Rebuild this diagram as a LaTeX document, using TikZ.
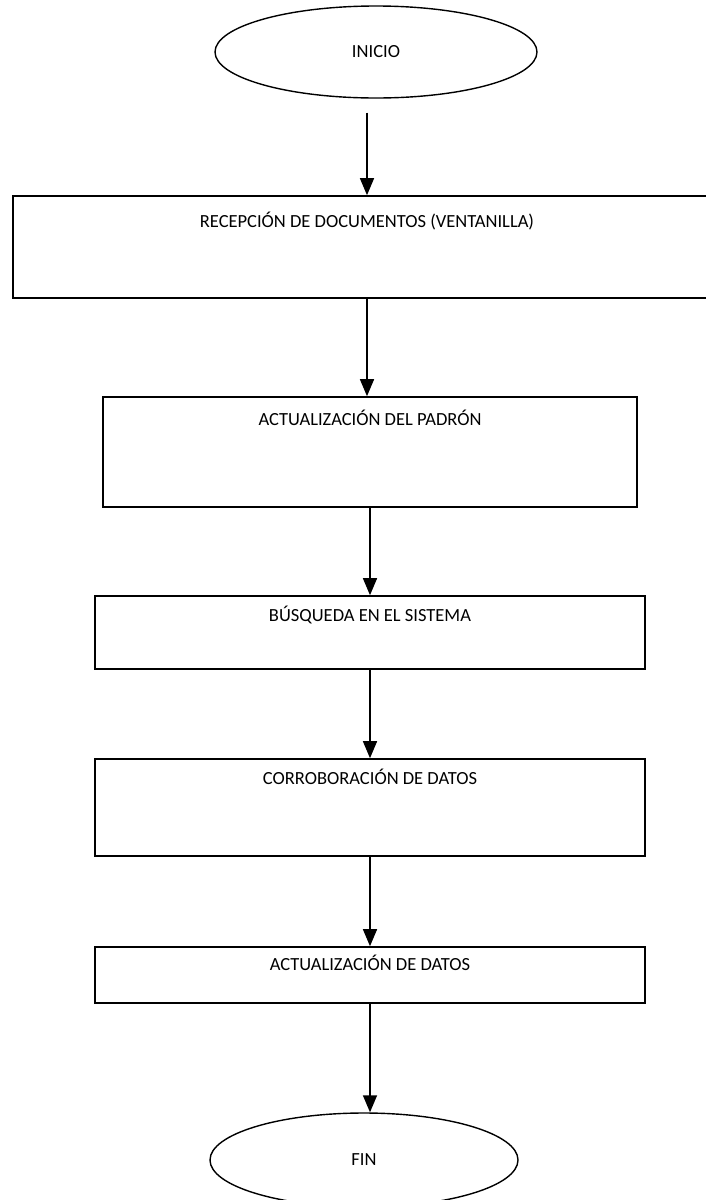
\documentclass[tikz,border=0pt]{standalone}
\usepackage{fontspec}
\setmainfont{Carlito}
\usepackage{tikz}
\usetikzlibrary{arrows.meta}
\usetikzlibrary{shapes.geometric}
\tikzstyle{termnode}=[black, draw=black, line width=1.4pt, shape=ellipse, fill=white, inner sep=0pt, font=\fontsize{18.5}{22}\selectfont]
\tikzstyle{procnode}=[black, draw=black, line width=1.6pt, shape=rectangle, fill=white, inner sep=0pt]
\tikzstyle{proclabel}=[black, anchor=base, inner sep=0pt, font=\fontsize{18.5}{22}\selectfont]

\begin{document}
\begin{tikzpicture}[x=1pt, y=-1pt]
\useasboundingbox (0,0) rectangle (706,1200);

\node [termnode, minimum width=322pt, minimum height=92pt] (inicio) at (376,52) {INICIO};
\node [procnode, minimum width=708pt, minimum height=102pt, label={[proclabel, yshift=-32pt]north:RECEPCIÓN DE DOCUMENTOS (VENTANILLA)}] (recepcion) at (367,247) {};
\node [procnode, minimum width=534pt, minimum height=110pt, label={[proclabel, yshift=-29pt]north:ACTUALIZACIÓN DEL PADRÓN}] (padron) at (370,452) {};
\node [procnode, minimum width=550pt, minimum height=73pt, label={[proclabel, yshift=-26pt]north:BÚSQUEDA EN EL SISTEMA}] (busqueda) at (370,632.5) {};
\node [procnode, minimum width=550pt, minimum height=97pt, label={[proclabel, yshift=-26pt]north:CORROBORACIÓN DE DATOS}] (corrob) at (370,807.5) {};
\node [procnode, minimum width=550pt, minimum height=56pt, label={[proclabel, yshift=-24pt]north:ACTUALIZACIÓN DE DATOS}] (datos) at (370,975) {};
\node [termnode, minimum width=308pt, minimum height=94pt] (fin) at (364,1160) {FIN};

\draw[-{Triangle[length=17pt, width=14pt]}, line width=1.4pt, color=black, shorten <=14pt] (inicio.south -| recepcion.north) -- (recepcion.north);
\draw[-{Triangle[length=17pt, width=14pt]}, line width=1.4pt, color=black] (recepcion.south) -- (recepcion.south |- padron.north);
\draw[-{Triangle[length=17pt, width=14pt]}, line width=1.4pt, color=black] (padron.south) -- (busqueda.north);
\draw[-{Triangle[length=17pt, width=14pt]}, line width=1.4pt, color=black] (busqueda.south) -- (corrob.north);
\draw[-{Triangle[length=17pt, width=14pt]}, line width=1.4pt, color=black] (corrob.south) -- (datos.north);
\draw[-{Triangle[length=17pt, width=14pt]}, line width=1.4pt, color=black] (datos.south) -- (datos.south |- fin.north);
\end{tikzpicture}
\end{document}
